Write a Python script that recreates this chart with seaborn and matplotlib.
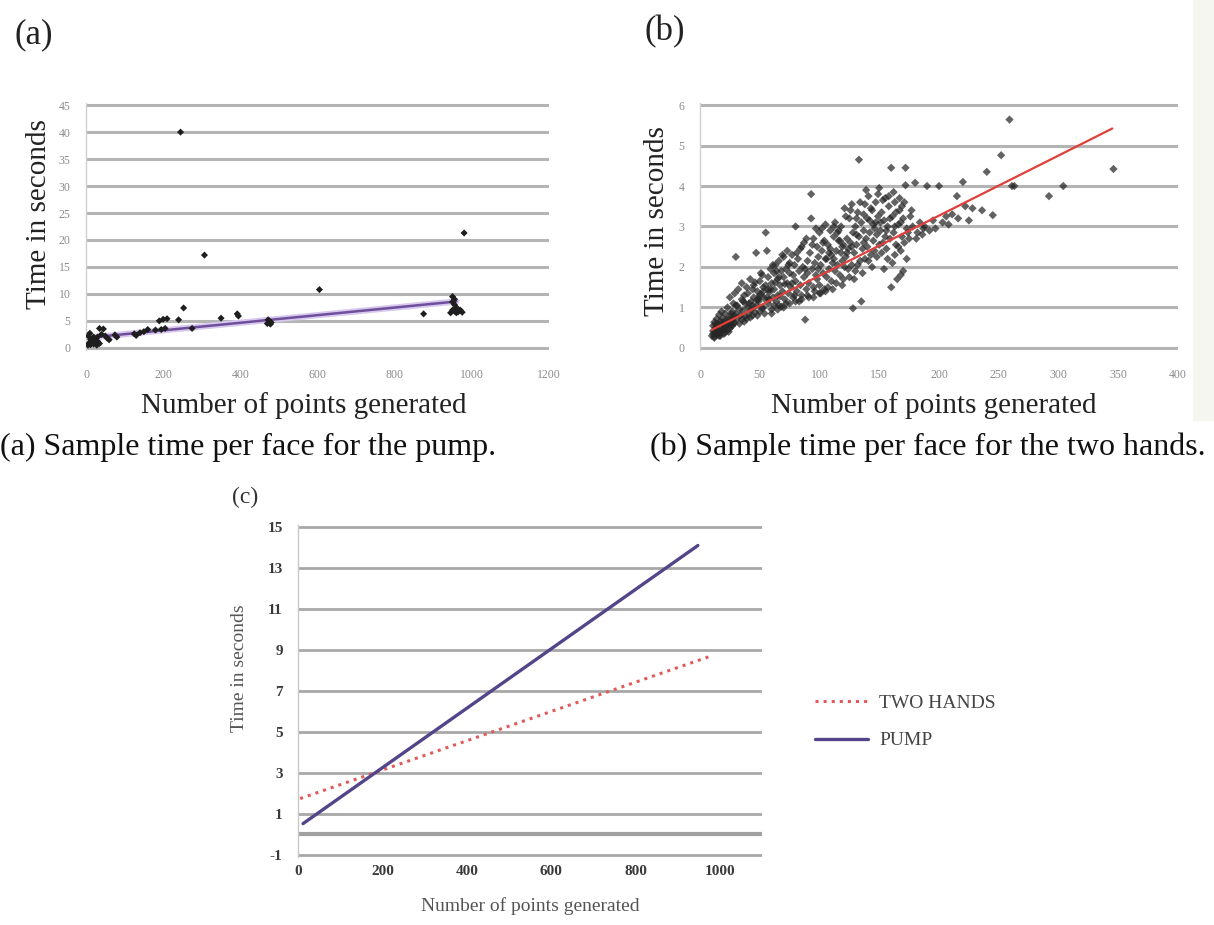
import matplotlib
matplotlib.use("Agg")
import matplotlib.pyplot as plt
import seaborn as sns
import pandas as pd
from matplotlib.patches import Rectangle

# ================== data ==================
# (a) pump: sample time per face
pump_x = [5, 8, 10, 12, 15, 18, 20, 22, 25, 28, 30, 35, 12, 6, 10, 20,
          30, 35, 40, 45, 50, 55, 60, 75, 80,
          125, 130, 140, 150, 160, 180, 195, 205, 190, 200, 210,
          240, 245, 253, 275, 307, 350, 392, 395,
          470, 472, 475, 478, 480,
          605, 875, 945, 950, 950, 950, 955, 955, 955, 960, 960, 965, 970, 975, 980]
pump_y = [0.5, 0.8, 1.0, 0.6, 0.9, 1.2, 0.7, 1.4, 1.0, 0.5, 1.2, 0.8, 1.5, 2.2, 2.7, 2.0,
          2.0, 3.6, 2.5, 3.5, 2.2, 1.8, 1.5, 2.4, 2.0,
          2.6, 2.3, 2.8, 3.0, 3.4, 3.3, 3.4, 3.6, 5.0, 5.3, 5.4,
          5.2, 40.0, 7.4, 3.6, 17.2, 5.5, 6.3, 5.9,
          4.5, 5.2, 5.0, 4.4, 4.7,
          10.8, 6.3, 6.5, 9.5, 8.5, 7.0, 9.0, 8.0, 6.8, 7.5, 6.5, 6.7, 7.0, 6.6, 21.3]
pump_fit_x = [10, 960]
pump_fit_y = [1.9, 8.6]

# (b) two hands: sample time per face
hands_x = [10, 11, 11, 12, 12, 13, 13, 14, 14, 15,
           15, 16, 16, 17, 17, 18, 18, 19, 19, 20,
           20, 21, 21, 22, 23, 23, 24, 25, 25, 26,
           27, 27, 28, 29, 29, 30, 31, 31, 32, 33,
           30, 34, 35, 35, 36, 37, 38, 38, 39, 40,
           40, 41, 42, 43, 43, 44, 45, 46, 46, 47,
           47, 48, 49, 50, 50, 51, 52, 53, 53, 54,
           55, 55, 56, 57, 57, 58, 59, 60, 60, 61,
           62, 62, 63, 64, 65, 65, 66, 67, 68, 68,
           69, 70, 70, 71, 72, 73, 73, 74, 75, 75,
           76, 77, 78, 78, 79, 80, 80, 81, 82, 83,
           84, 84, 85, 86, 87, 87, 88, 89, 90, 90,
           91, 92, 93, 93, 94, 95, 95, 96, 97, 98,
           98, 99, 100, 100, 101, 102, 103, 104, 104, 105,
           106, 106, 107, 108, 109, 110, 110, 111, 112, 113,
           113, 114, 115, 116, 117, 118, 118, 119, 120, 120,
           121, 122, 123, 124, 124, 125, 126, 127, 128, 128,
           129, 130, 130, 131, 132, 133, 133, 134, 135, 135,
           136, 137, 138, 138, 139, 140, 140, 141, 142, 143,
           144, 145, 145, 146, 147, 148, 149, 150, 150, 151,
           152, 153, 154, 155, 155, 156, 157, 158, 159, 160,
           160, 161, 162, 163, 164, 165, 166, 167, 168, 169,
           170, 171, 172, 172, 173, 175, 176, 178, 180, 182,
           184, 186, 188, 190, 192, 195, 197, 200, 203, 206,
           208, 211, 215, 216, 220, 222, 225, 228, 236, 240,
           245, 252, 259, 261, 263, 292, 304, 346, 24, 28,
           33, 36, 39, 44, 49, 52, 58, 63, 67, 71,
           103, 108, 112, 116, 119, 123, 127, 131, 137, 142,
           146, 151, 156, 159, 163, 168, 174, 177, 181, 187,
           12, 14, 16, 18, 20, 22, 24, 26, 28, 30,
           42, 45, 48, 51, 54, 56, 59, 61, 64, 66,
           69, 72, 74, 77, 79, 81, 83, 85, 88, 89,
           91, 94, 96, 97, 99, 101, 102, 105, 107, 109,
           111, 112, 114, 115, 117, 119, 121, 122, 125, 126,
           127, 129, 131, 132, 134, 136, 137, 139, 141, 143,
           144, 147, 148, 149, 152, 153, 154, 157, 158, 161,
           162, 163, 164, 166, 167, 168, 169, 170, 171, 173,
           60, 65, 70, 75, 80, 85, 90, 95, 100, 105,
           35, 37, 41, 44, 48, 50, 53, 57, 62, 66,
           11, 13, 15, 17, 19, 21, 23, 25, 27, 29]
hands_y = [0.30, 0.42, 0.55, 0.28, 0.64, 0.38, 0.50, 0.33, 0.72, 0.45,
           0.60, 0.36, 0.82, 0.48, 0.66, 0.40, 0.90, 0.55, 0.74, 0.35,
           0.62, 0.50, 0.85, 0.70, 0.45, 1.00, 0.60, 0.78, 1.25, 0.55,
           0.90, 0.68, 1.10, 0.62, 1.35, 0.85, 1.05, 0.72, 1.45, 0.95,
           2.25, 0.80, 1.20, 1.60, 0.92, 1.30, 0.78, 1.10, 1.50, 1.00,
           1.35, 0.85, 1.70, 1.15, 0.95, 1.45, 1.25, 0.88, 1.62, 2.35,
           1.05, 1.40, 1.20, 0.90, 1.65, 1.32, 1.80, 1.00, 1.50, 1.22,
           2.85, 1.55, 2.40, 1.10, 1.75, 1.38, 1.95, 0.95, 1.60, 1.25,
           1.85, 1.45, 2.05, 1.15, 1.70, 1.30, 2.15, 1.55, 1.02, 1.90,
           1.40, 1.75, 2.25, 1.20, 1.95, 1.60, 2.40, 1.35, 1.85, 2.10,
           1.50, 2.30, 1.25, 1.80, 2.05, 1.65, 3.00, 1.40, 2.20, 1.90,
           1.55, 2.45, 1.30, 2.00, 1.75, 2.60, 0.70, 1.45, 2.15, 1.85,
           1.60, 2.35, 3.80, 3.20, 1.95, 1.50, 2.70, 2.10, 1.80, 2.50,
           1.70, 2.25, 1.55, 2.85, 2.05, 2.40, 1.85, 2.65, 1.45, 3.05,
           2.20, 1.75, 2.55, 1.95, 2.90, 2.30, 1.65, 2.10, 2.75, 1.90,
           3.10, 2.40, 2.05, 2.65, 1.80, 2.35, 3.00, 2.15, 2.55, 1.70,
           3.45, 2.25, 2.70, 1.95, 2.45, 3.20, 2.60, 2.05, 0.98, 2.85,
           2.35, 3.00, 1.90, 2.55, 3.35, 4.65, 2.75, 2.15, 1.15, 3.10,
           2.45, 2.90, 3.55, 2.20, 2.70, 3.20, 2.50, 3.75, 2.85, 2.30,
           3.40, 2.65, 3.05, 2.40, 3.60, 2.80, 3.25, 2.55, 3.95, 2.90,
           3.35, 2.60, 3.15, 2.75, 3.70, 2.45, 3.00, 3.50, 2.70, 4.45,
           1.50, 3.25, 2.85, 3.60, 2.55, 1.70, 3.05, 3.40, 1.80, 2.75,
           3.20, 2.60, 4.45, 4.02, 2.95, 2.70, 3.25, 3.00, 4.08, 2.85,
           3.10, 2.80, 3.00, 4.00, 2.90, 3.15, 2.95, 4.00, 3.10, 3.25,
           3.05, 3.30, 3.75, 3.20, 4.10, 3.50, 3.15, 3.45, 3.40, 4.35,
           3.28, 4.76, 5.64, 4.00, 4.00, 3.75, 4.00, 4.42, 0.40, 0.75,
           0.60, 1.15, 0.72, 1.05, 1.15, 0.98, 1.20, 1.62, 1.28, 1.58,
           2.60, 2.35, 2.20, 2.90, 2.50, 2.35, 2.50, 2.80, 2.60, 3.15,
           2.95, 3.10, 2.90, 3.20, 3.00, 3.10, 2.85, 3.40, 2.70, 2.95,
           0.25, 0.55, 0.30, 0.62, 0.48, 0.58, 0.70, 0.85, 0.60, 1.05,
           0.75, 1.55, 0.80, 1.85, 0.85, 1.25, 1.45, 2.05, 1.90, 1.05,
           2.30, 1.10, 2.05, 1.60, 1.30, 2.35, 1.15, 2.50, 1.95, 2.70,
           1.25, 2.55, 1.40, 2.95, 1.95, 1.35, 2.95, 2.20, 1.50, 2.45,
           1.45, 3.00, 1.60, 2.85, 2.65, 1.55, 2.00, 3.25, 1.75, 3.40,
           3.55, 1.70, 3.20, 2.05, 3.60, 1.85, 3.30, 3.90, 2.15, 3.45,
           2.00, 3.10, 2.25, 3.80, 2.35, 3.65, 1.95, 2.20, 3.75, 2.10,
           3.85, 2.30, 3.35, 2.50, 3.70, 2.40, 3.50, 1.90, 3.60, 2.20,
           0.85, 0.95, 1.00, 1.10, 1.15, 1.20, 1.30, 1.25, 1.35, 1.40,
           0.70, 0.65, 1.10, 0.80, 1.20, 1.30, 1.40, 1.45, 1.05, 1.75,
           0.35, 0.60, 0.40, 0.30, 0.45, 0.38, 0.62, 0.48, 0.55, 0.80]
hands_fit_x = [10, 345]
hands_fit_y = [0.45, 5.42]

# (c) fitted trends compared
two_hands_x = [5, 978]
two_hands_y = [1.75, 8.7]
pump_line_x = [12, 948]
pump_line_y = [0.53, 14.1]

captions = ["(a) Sample time per face for the pump.",
            "(b) Sample time per face for the two hands."]

# ================== style ==================
sns.set_theme(style="white")
plt.rcParams['font.family'] = ['Liberation Serif', 'DejaVu Serif']
plt.rcParams['axes.unicode_minus'] = False

W, H = 1214, 925
fig = plt.figure(figsize=(W / 100, H / 100), dpi=100)
fig.patch.set_facecolor("white")


def px_axes(left, top, right, bottom):
    return fig.add_axes([left / W, 1 - bottom / H, (right - left) / W, (bottom - top) / H])


def style_top(ax, yticks):
    ax.set_yticks(yticks)
    ax.yaxis.grid(True, color="#b4b4b4", lw=2.2)
    ax.xaxis.grid(False)
    ax.set_axisbelow(True)
    for s in ["top", "right", "bottom"]:
        ax.spines[s].set_visible(False)
    ax.spines["left"].set_color("#d0d0d0")
    ax.spines["left"].set_linewidth(1)
    ax.tick_params(axis="both", length=0, labelsize=8.5, labelcolor="#8c8c8c")
    ax.tick_params(axis="x", pad=14)
    ax.tick_params(axis="y", pad=11)


# ---------- (a) ----------
ax_a = px_axes(86, 103, 549, 350)
df_a = pd.DataFrame({"x": pump_x, "y": pump_y})
# trend line first, points on top of it
sns.lineplot(x=pump_fit_x, y=pump_fit_y, ax=ax_a, color="#d9c8ee", lw=4.5)
sns.lineplot(x=pump_fit_x, y=pump_fit_y, ax=ax_a, color="#6f4f9c", lw=1.8)
sns.scatterplot(data=df_a, x="x", y="y", ax=ax_a, marker="D", s=13,
                color="#1e1e1e", edgecolor="none", legend=False, zorder=3)
ax_a.set_xlim(0, 1200)
ax_a.set_ylim(-0.4, 45.4)
ax_a.set_xticks(range(0, 1201, 200))
style_top(ax_a, range(0, 46, 5))
ax_a.set_xlabel("Number of points generated", fontsize=21, color="#222")
ax_a.set_ylabel("Time in seconds", fontsize=21, color="#222")
ax_a.xaxis.set_label_coords(0.47, -0.17)
ax_a.yaxis.set_label_coords(-0.073, 0.55)

# ---------- (b) ----------
ax_b = px_axes(700, 103, 1178, 350)
df_b = pd.DataFrame({"x": hands_x, "y": hands_y})
sns.scatterplot(data=df_b, x="x", y="y", ax=ax_b, marker="D", s=18,
                color="#262626", alpha=0.72, edgecolor="none", legend=False)
sns.lineplot(x=hands_fit_x, y=hands_fit_y, ax=ax_b, color="#e0403a", lw=1.6)
ax_b.set_xlim(0, 400)
ax_b.set_ylim(-0.05, 6.05)
ax_b.set_xticks(range(0, 401, 50))
style_top(ax_b, range(0, 7))
ax_b.set_xlabel("Number of points generated", fontsize=21, color="#222")
ax_b.set_ylabel("Time in seconds", fontsize=21, color="#222")
ax_b.xaxis.set_label_coords(0.49, -0.17)
ax_b.yaxis.set_label_coords(-0.063, 0.52)

# grey strip on the right edge of the scanned page
fig.patches.append(Rectangle((1193 / W, 1 - 420 / H), 21 / W, 420 / H,
                             transform=fig.transFigure, color="#f6f6f0", zorder=0))

# ---------- (c) ----------
ax_c = px_axes(298, 525, 762, 857)
sns.lineplot(x=two_hands_x, y=two_hands_y, ax=ax_c, color="#e05a5a", lw=2.2,
             linestyle=":", label="TWO HANDS")
sns.lineplot(x=pump_line_x, y=pump_line_y, ax=ax_c, color="#54458a", lw=2.4,
             label="PUMP")
ax_c.set_xlim(0, 1100)
ax_c.set_ylim(-1.1, 15.1)
ax_c.set_xticks(range(0, 1001, 200))
ax_c.set_yticks(range(-1, 16, 2))
ax_c.yaxis.grid(True, color="#a8a8a8", lw=2)
ax_c.axhline(0, color="#a0a0a0", lw=3, zorder=0.5)
ax_c.set_axisbelow(True)
for s in ["top", "right", "bottom"]:
    ax_c.spines[s].set_visible(False)
ax_c.spines["left"].set_color("#c8c8c8")
ax_c.spines["left"].set_linewidth(1)
ax_c.tick_params(axis="both", length=0, labelsize=11, labelcolor="#3a3a3a")
for lab in ax_c.get_xticklabels() + ax_c.get_yticklabels():
    lab.set_fontweight("bold")
ax_c.tick_params(axis="x", pad=6)
ax_c.tick_params(axis="y", pad=11)
ax_c.set_xlabel("Number of points generated", fontsize=14, color="#555")
ax_c.set_ylabel("Time in seconds", fontsize=14, color="#555")
ax_c.xaxis.set_label_coords(0.5, -0.12)
ax_c.yaxis.set_label_coords(-0.108, 0.57)
ax_c.legend(loc="center left", bbox_to_anchor=(815 / W, 1 - 722 / H),
            bbox_transform=fig.transFigure, frameon=False, fontsize=14,
            handlelength=2.7, handletextpad=0.6, labelspacing=1.0,
            borderpad=0, borderaxespad=0, labelcolor="#444")

# ---------- panel letters and captions ----------
fig.text(15 / W, 1 - 35 / H, "(a)", fontsize=25, va="center", ha="left", color="#222")
fig.text(645 / W, 1 - 32 / H, "(b)", fontsize=25, va="center", ha="left", color="#222")
fig.text(232 / W, 1 - 497 / H, "(c)", fontsize=17, va="center", ha="left", color="#333")
fig.text(0 / W, 1 - 447 / H, captions[0], fontsize=23, va="center", ha="left", color="#111")
fig.text(650 / W, 1 - 447 / H, captions[1], fontsize=23, va="center", ha="left", color="#111")

fig.savefig("out.png", dpi=100, facecolor="white")
